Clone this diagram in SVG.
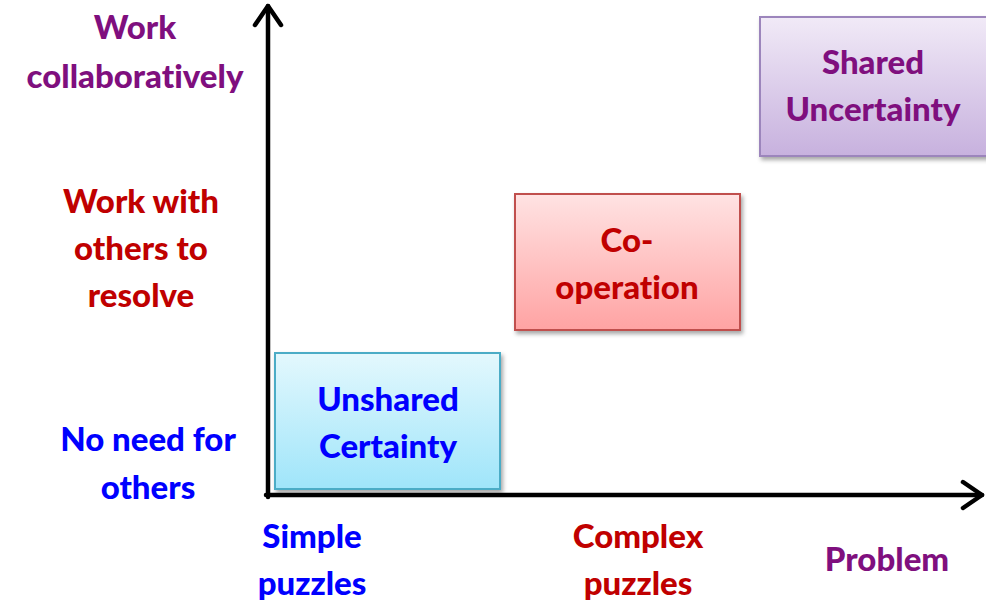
<svg xmlns="http://www.w3.org/2000/svg" width="986" height="601" viewBox="0 0 986 601">
<style>
text{font-family:Lato,"Liberation Sans",sans-serif;font-weight:900;font-size:33px;text-anchor:middle;font-variant-ligatures:none}
.pur{fill:#7F0F7E}.red{fill:#C00000}.blu{fill:#0000FF}
.axis{stroke:#000;stroke-width:4.5;fill:none;stroke-linecap:round;stroke-linejoin:round}
</style>
<defs>
<linearGradient id="gP" x1="0" y1="0" x2="0" y2="1"><stop offset="0" stop-color="#F1EAF7"/><stop offset="1" stop-color="#C7B1DE"/></linearGradient>
<linearGradient id="gR" x1="0" y1="0" x2="0" y2="1"><stop offset="0" stop-color="#FFE3E3"/><stop offset="1" stop-color="#FFA3A3"/></linearGradient>
<linearGradient id="gB" x1="0" y1="0" x2="0" y2="1"><stop offset="0" stop-color="#E3F8FD"/><stop offset="1" stop-color="#9FE5FA"/></linearGradient>
<filter id="sh" x="-10%" y="-10%" width="130%" height="130%"><feDropShadow dx="2" dy="3" stdDeviation="2" flood-color="#000" flood-opacity="0.35"/></filter>
</defs>
<g id="connectors">
<path class="axis" d="M268,497 L268,6"/>
<path class="axis" d="M255,25 L268,6 L281,25"/>
<path class="axis" d="M266,495 L982,495"/>
<path class="axis" d="M963,482 L982,495 L963,508"/>
</g>
<g id="shared-uncertainty">
<rect x="760" y="17" width="228" height="139" fill="url(#gP)" stroke="#9C85BC" stroke-width="2" filter="url(#sh)"/>
<text class="pur" x="873" y="74">Shared</text>
<text class="pur" x="873" y="121">Uncertainty</text>
</g>
<g id="co-operation">
<rect x="515" y="194" width="225" height="136" fill="url(#gR)" stroke="#C0504D" stroke-width="2" filter="url(#sh)"/>
<text class="red" x="627" y="252">Co-</text>
<text class="red" x="627" y="299">operation</text>
</g>
<g id="unshared-certainty">
<rect x="275" y="353" width="225" height="136" fill="url(#gB)" stroke="#4BACC6" stroke-width="2" filter="url(#sh)"/>
<text class="blu" x="388" y="411">Unshared</text>
<text class="blu" x="388" y="458">Certainty</text>
</g>
<g id="y-labels">
<text class="pur" x="135" y="39">Work</text>
<text class="pur" x="135" y="88">collaboratively</text>
<text class="red" x="141" y="213">Work with</text>
<text class="red" x="141" y="260">others to</text>
<text class="red" x="141" y="307">resolve</text>
<text class="blu" x="148" y="451">No need for</text>
<text class="blu" x="148" y="499">others</text>
</g>
<g id="x-labels">
<text class="blu" x="312" y="548">Simple</text>
<text class="blu" x="312" y="595">puzzles</text>
<text class="red" x="638" y="548">Complex</text>
<text class="red" x="638" y="595">puzzles</text>
<text class="pur" x="887" y="571">Problem</text>
</g>
</svg>
